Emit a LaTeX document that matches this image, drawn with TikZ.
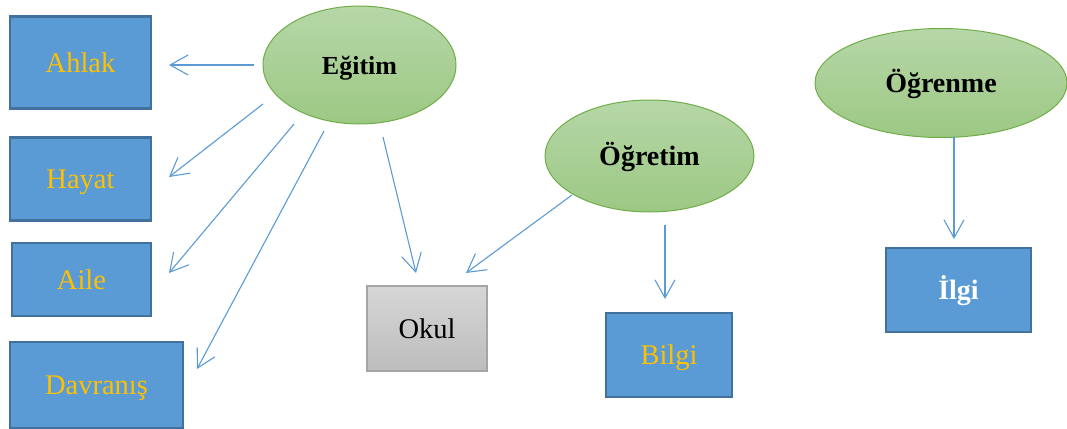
\documentclass[tikz,border=0pt]{standalone}
\usepackage{fontspec}
\setmainfont{Liberation Serif}
\usetikzlibrary{shapes.geometric,arrows.meta}
\definecolor{boxfill}{HTML}{5B9BD5}
\definecolor{boxline}{HTML}{41719C}
\definecolor{boxtext}{HTML}{FFC000}
\definecolor{elltop}{HTML}{B6D7A8}
\definecolor{ellbot}{HTML}{9CC883}
\definecolor{ellline}{HTML}{70AD47}
\definecolor{graytop}{HTML}{D6D6D6}
\definecolor{graybot}{HTML}{BDBDBD}
\definecolor{grayline}{HTML}{A5A5A5}
\definecolor{arrowcol}{HTML}{5B9BD5}
\tikzset{
  txt/.style={text height=25.4pt, text depth=6.2pt},
  bluebox/.style={draw=boxline, line width=2.5pt, fill=boxfill, text=boxtext,
    inner sep=0pt, txt, font=\fontsize{28.5}{30}\selectfont},
  graybox/.style={draw=grayline, line width=1.5pt, top color=graytop, bottom color=graybot,
    inner sep=0pt, txt, font=\fontsize{28.5}{30}\selectfont},
  oval/.style={ellipse, draw=ellline, line width=1pt, top color=elltop, bottom color=ellbot,
    inner sep=0pt, txt, font=\fontsize{28}{30}\selectfont\bfseries},
  conn/.style={draw=arrowcol, line width=1.1pt, -{Straight Barb[length=18pt,width=20pt]}}
}
\begin{document}
\begin{tikzpicture}[x=1pt,y=-1pt]
\useasboundingbox (0,0) rectangle (1067,428);
% boxes
\node[bluebox, minimum width=141pt, minimum height=92pt] (ahlak) at (80.5,62.5) {Ahlak};
\node[bluebox, minimum width=141pt, minimum height=83pt] (hayat) at (80.5,179) {Hayat};
\node[bluebox, minimum width=139pt, minimum height=73pt] (aile) at (81.5,279.5) {Aile};
\node[bluebox, minimum width=173pt, minimum height=86pt] (davranis) at (96.5,385) {Davranış};
\node[graybox, minimum width=120pt, minimum height=85pt] (okul) at (427,328.5) {Okul};
\node[bluebox, minimum width=126pt, minimum height=84pt] (bilgi) at (669,355) {Bilgi};
\node[bluebox, minimum width=145pt, minimum height=84pt, text=white, font=\fontsize{28}{30}\selectfont\bfseries] (ilgi) at (958.5,290) {İlgi};
% ellipses
\node[oval, minimum width=193pt, minimum height=118pt, font=\fontsize{26}{30}\selectfont\bfseries] (egitim) at (359.5,65) {Eğitim};
\node[oval, minimum width=209pt, minimum height=112pt] (ogretim) at (649.5,156) {Öğretim};
\node[oval, minimum width=252pt, minimum height=109pt] (ogrenme) at (941,83) {Öğrenme};
% connector end points
\coordinate (e1) at (254,65);   \coordinate (t1) at (169,65);
\coordinate (e2) at (263,104);  \coordinate (t2) at (169,177);
\coordinate (e3) at (294,124);  \coordinate (t3) at (169,273);
\coordinate (e4) at (324,131);  \coordinate (t4) at (197,369);
\coordinate (e5) at (383,137);  \coordinate (t5) at (416,273);
\coordinate (o1) at (572,195);  \coordinate (t6) at (466,273);
\coordinate (o2) at (665,225);  \coordinate (t7) at (665,299);
\coordinate (r1) at (954,137);  \coordinate (t8) at (954,239);
\draw[conn] (e1) -- (t1);
\draw[conn] (e2) -- (t2);
\draw[conn] (e3) -- (t3);
\draw[conn] (e4) -- (t4);
\draw[conn] (e5) -- (t5);
\draw[conn] (o1) -- (t6);
\draw[conn] (o2) -- (t7);
\draw[conn] (r1) -- (t8);
\end{tikzpicture}
\end{document}
